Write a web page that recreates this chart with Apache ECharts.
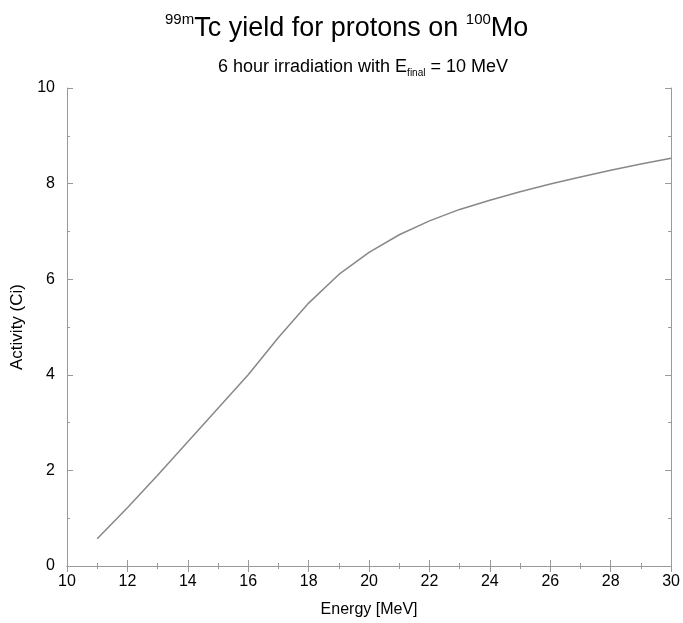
<!DOCTYPE html>
<html><head><meta charset="utf-8">
<script src="https://cdn.jsdelivr.net/npm/echarts@6/dist/echarts.min.js"></script>
<style>html,body{margin:0;padding:0;background:#fff}#c{width:683px;height:623px}</style>
</head><body><div id="c"></div>
<script>
const energy = [11,12,13,14,15,16,17,18,19,20,21,22,23,24,25,26,27,28,29,30];
const activity = [0.57,1.22,1.9,2.6,3.3,4.0,4.78,5.5,6.1,6.56,6.93,7.22,7.46,7.65,7.83,7.99,8.14,8.28,8.41,8.53];
const xTicks = [10,12,14,16,18,20,22,24,26,28,30];
const yTicks = [0,2,4,6,8,10];

const F = 'Liberation Sans, Arial, Helvetica, sans-serif';
const axisCol = '#999';
const chart = echarts.init(document.getElementById('c'), null, {renderer:'canvas'});
const tickCommon = {show:true, inside:true, length:6, lineStyle:{color:axisCol}};
const minorCommon = {show:true, splitNumber:2, length:3, lineStyle:{color:axisCol}};
chart.setOption({
  backgroundColor:'#fff',
  animation:false,
  title:[
    {text:'{sup|99m}{big|Tc yield for protons on }{sup|100}{big|Mo}', left:160, top:7,
     textStyle:{rich:{
       sup:{fontFamily:F, fontSize:15, fontWeight:'normal', color:'#000', verticalAlign:'top', lineHeight:14},
       big:{fontFamily:F, fontSize:27, fontWeight:'normal', color:'#000', verticalAlign:'bottom', lineHeight:30}
     }}},
    {text:'{n|6 hour irradiation with E}{s|final}{n| = 10 MeV}', left:213, top:53,
     textStyle:{rich:{
       n:{fontFamily:F, fontSize:18, fontWeight:'normal', color:'#000', verticalAlign:'top', lineHeight:20},
       s:{fontFamily:F, fontSize:10, fontWeight:'normal', color:'#000', verticalAlign:'bottom', lineHeight:12, padding:[14,0,0,0]}
     }}}
  ],
  grid:{left:67, right:11, top:88, bottom:49, containLabel:false},
  xAxis:[
    {type:'value', min:10, max:30, interval:2, position:'bottom',
     axisLine:{show:true, lineStyle:{color:axisCol}},
     axisTick:tickCommon, minorTick:minorCommon, splitLine:{show:false},
     axisLabel:{color:'#000', fontFamily:F, fontSize:16, margin:8,
       formatter:v=>xTicks.includes(v)?String(v):''},
     name:'Energy [MeV]', nameLocation:'middle', nameGap:36,
     nameTextStyle:{color:'#000', fontFamily:F, fontSize:16}},
    {type:'value', min:10, max:30, interval:2, position:'top',
     axisLine:{show:true, lineStyle:{color:axisCol}},
     axisTick:tickCommon, minorTick:minorCommon, splitLine:{show:false},
     axisLabel:{show:false}}
  ],
  yAxis:[
    {type:'value', min:0, max:10, interval:2, position:'left',
     axisLine:{show:true, lineStyle:{color:axisCol}},
     axisTick:tickCommon, minorTick:minorCommon, splitLine:{show:false},
     axisLabel:{color:'#000', fontFamily:F, fontSize:16, margin:12,
       formatter:v=>yTicks.includes(v)?String(v):''},
     name:'Activity (Ci)', nameLocation:'middle', nameGap:41,
     nameTextStyle:{color:'#000', fontFamily:F, fontSize:17}},
    {type:'value', min:0, max:10, interval:2, position:'right',
     axisLine:{show:true, lineStyle:{color:axisCol}},
     axisTick:tickCommon, minorTick:minorCommon, splitLine:{show:false},
     axisLabel:{show:false}}
  ],
  series:[{
    type:'line', xAxisIndex:0, yAxisIndex:0,
    data:energy.map((e,i)=>[e,activity[i]]),
    showSymbol:false, smooth:false,
    lineStyle:{color:'#888', width:1.5}
  }]
});
</script></body></html>
